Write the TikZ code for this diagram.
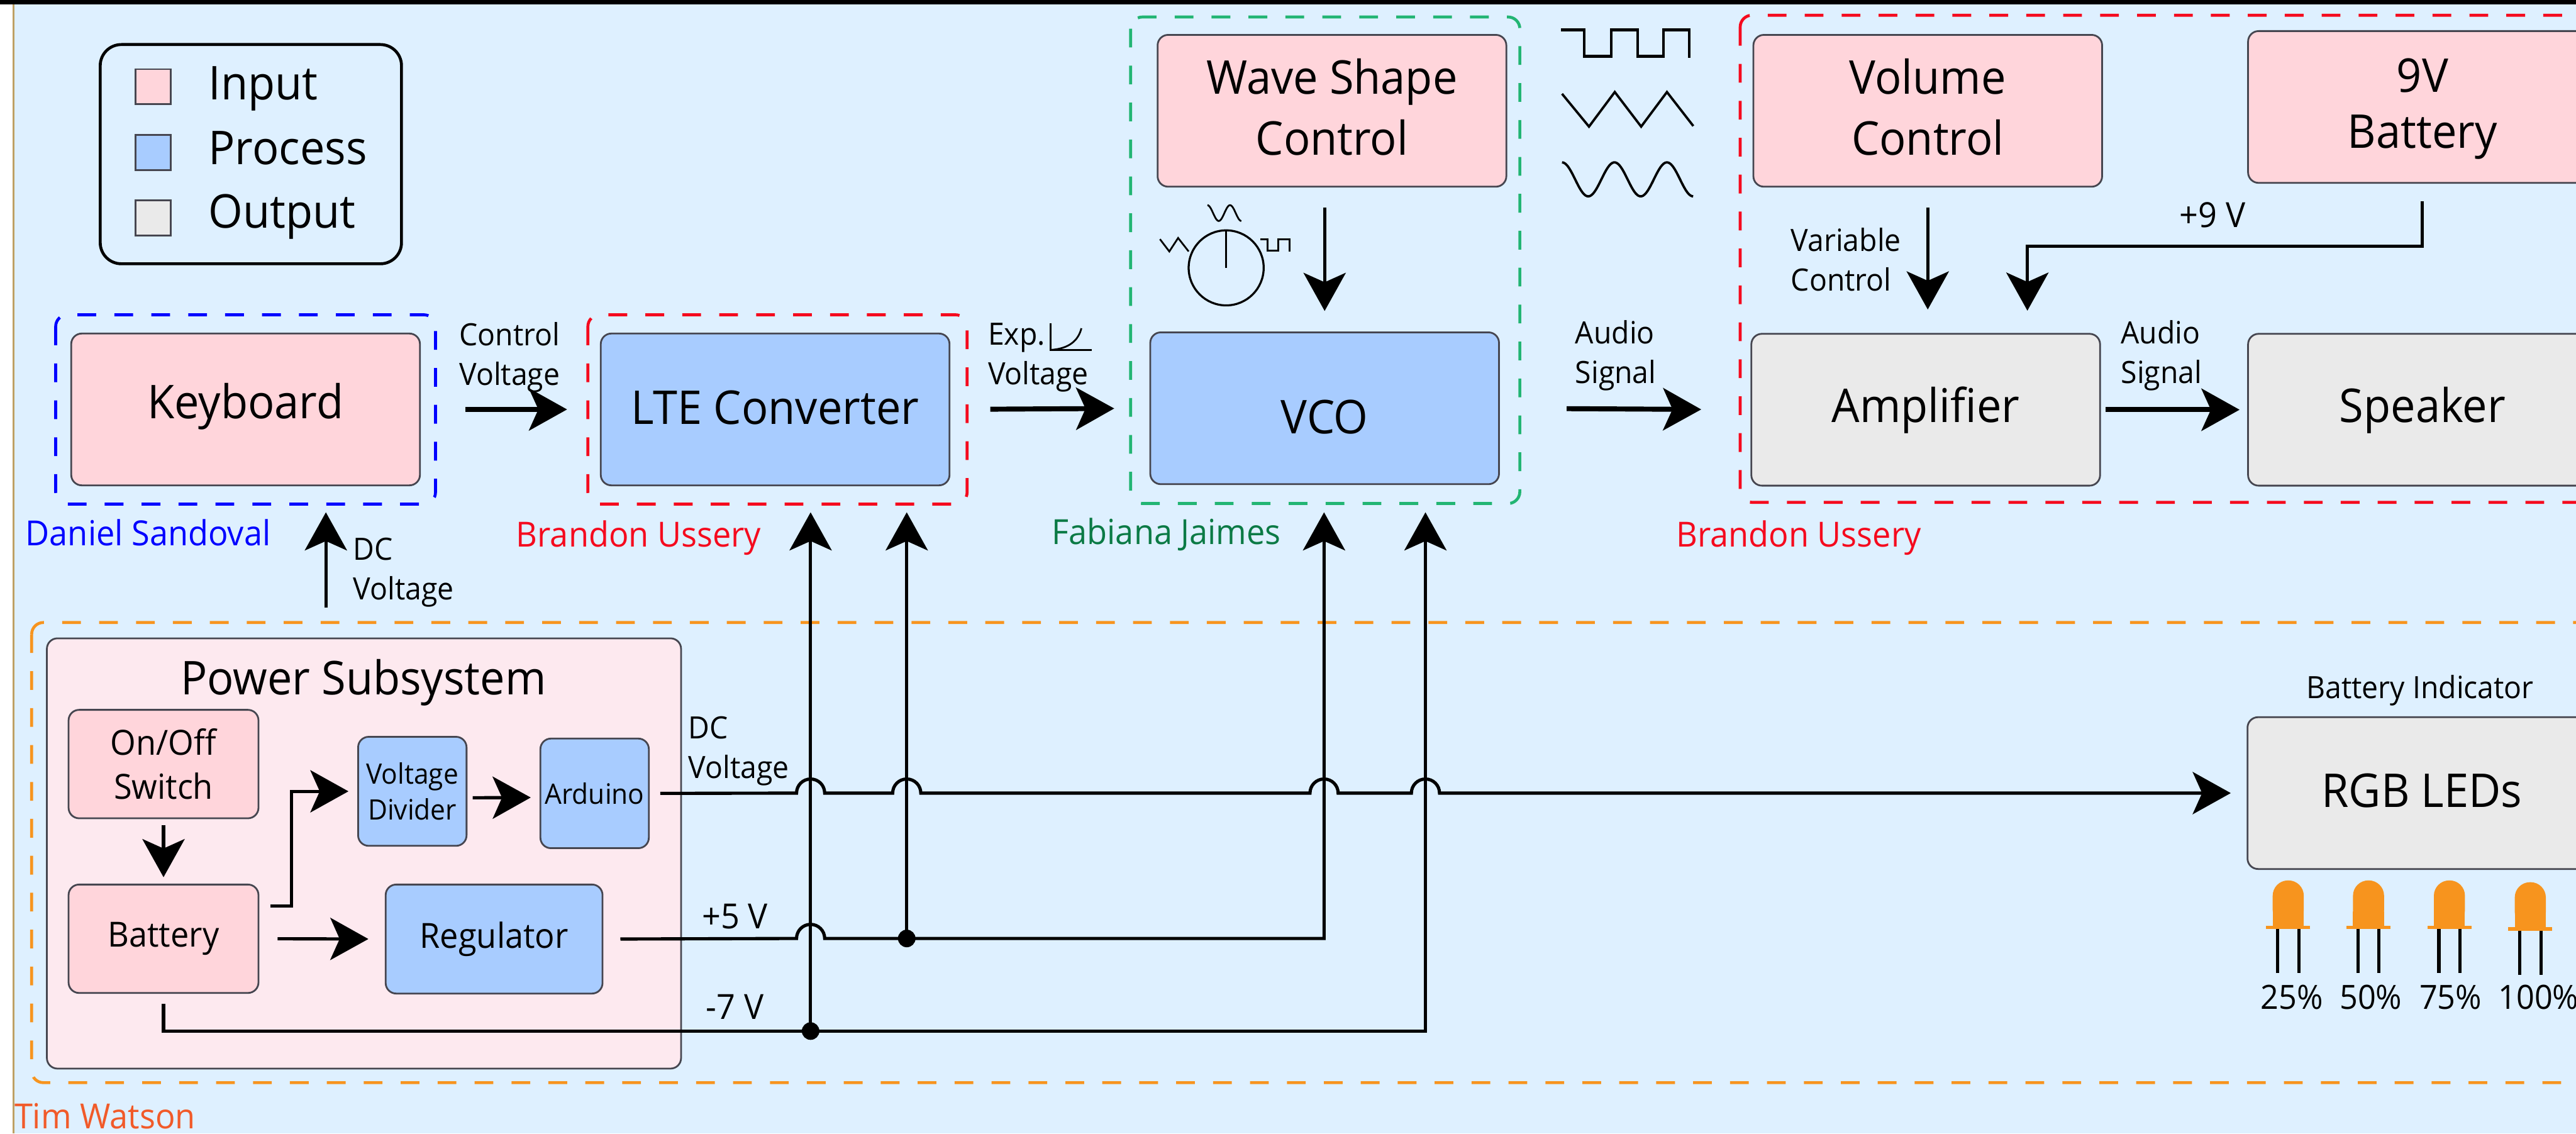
\documentclass[tikz,border=0pt]{standalone}
\usepackage{fontspec}
\setmainfont[FakeStretch=0.95]{Open Sans}
\usetikzlibrary{arrows.meta}
\definecolor{skyback}{RGB}{222,240,255}
\definecolor{inpink}{RGB}{255,213,219}
\definecolor{procblue}{RGB}{168,204,255}
\definecolor{outgray}{RGB}{234,234,234}
\definecolor{powerpink}{RGB}{253,233,239}
\definecolor{boxline}{RGB}{70,70,80}
\definecolor{framered}{RGB}{245,10,30}
\definecolor{framegreen}{RGB}{34,181,115}
\definecolor{frameorange}{RGB}{247,148,30}
\definecolor{nameorange}{RGB}{241,90,41}
\definecolor{namegreen}{RGB}{11,122,69}
\definecolor{edgetan}{RGB}{190,160,100}
\newcommand{\lift}[2]{\raisebox{#1}[0pt][0pt]{#2}}
\tikzset{
	fbig/.style={font=\fontsize{22.6}{29.6}\selectfont},
	fmid/.style={font=\fontsize{16.8}{21.6}\selectfont},
	fsmall/.style={font=\fontsize{14.9}{19.3}\selectfont},
	ftiny/.style={font=\fontsize{13.65}{17.6}\selectfont},
	block/.style={draw=boxline, line width=0.03cm, rounded corners=0.18cm, align=center, inner sep=0pt},
	inbox/.style={block, fill=inpink},
	procbox/.style={block, fill=procblue},
	outbox/.style={block, fill=outgray},
	bigsize/.style={minimum width=5.95cm, minimum height=2.59cm, fbig},
	twoline/.style={text depth=0.13cm},
	frame/.style={line width=0.05cm, dash pattern=on 0.32cm off 0.31cm, rounded corners=0.2cm},
	lbl/.style={fsmall, align=left, anchor=west, inner sep=0pt},
	plain/.style={inner sep=0pt},
	keytxt/.style={fbig, plain, anchor=west, text height=0.6cm, text depth=0.2cm},
	arrw/.style={-{Stealth[length=0.65cm,width=0.72cm,inset=0.16cm]}, line width=0.055cm},
	fatarrw/.style={arrw, line width=0.085cm},
	dot/.style={circle, fill=black, inner sep=0pt, minimum size=0.3cm},
	swatch/.style={draw=boxline, line width=0.03cm, minimum width=0.6cm, minimum height=0.6cm, inner sep=0pt},
	glyph/.style={line width=0.03cm}
}

\begin{document}
\begin{tikzpicture}
	\useasboundingbox (0,0) rectangle (43.95,-19.34);
	\clip (0,0) rectangle (43.95,-19.34);
	\fill [white] (0,0) rectangle (43.95,-19.34);
	\fill [skyback] (0.23,0) rectangle (43.95,-19.34);
	\fill [black] (0,0) rectangle (43.95,-0.08);
	\draw [edgetan, line width=0.03cm] (0.23,-0.08) -- (0.23,-19.34);

	% legend
	\draw [line width=0.05cm, rounded corners=0.36cm] (1.71,-0.76) rectangle (6.85,-4.50);
	\node [swatch, fill=inpink] (keyin) at (2.61,-1.48) {};
	\node [swatch, fill=procblue] (keyproc) at (2.61,-2.60) {};
	\node [swatch, fill=outgray] (keyout) at (2.61,-3.72) {};
	\node [keytxt] (txtin) at (3.55,-1.50) {Input};
	\node [keytxt] (txtproc) at (3.55,-2.61) {Process};
	\node [keytxt] (txtout) at (3.55,-3.69) {Output};

	% dashed groups
	\draw [frame, blue] (0.95,-5.37) rectangle (7.43,-8.60);
	\draw [frame, framered] (10.03,-5.37) rectangle (16.50,-8.60);
	\draw [frame, framegreen] (19.29,-0.29) rectangle (25.93,-8.59);
	\draw [frame, framered] (29.69,-0.26) rectangle (45,-8.57);
	\draw [frame, frameorange] (0.54,-10.62) rectangle (45,-18.47);

	\node [fmid, plain, blue, anchor=west] (daniel) at (0.43,-9.09) {Daniel Sandoval};
	\node [fmid, plain, framered, anchor=west] (brandona) at (8.80,-9.18) {Brandon Ussery};
	\node [fmid, plain, namegreen, anchor=west] (fabiana) at (17.94,-9.12) {Fabiana Jaimes};
	\node [fmid, plain, framered, anchor=west] (brandonb) at (28.59,-9.18) {Brandon Ussery};
	\node [fmid, plain, nameorange, anchor=west] (tim) at (0.24,-19.04) {Tim Watson};

	% top row
	\node [inbox, bigsize] (keyboard) at (4.19,-6.985) {\lift{-0.16cm}{Keyboard}};
	\node [procbox, bigsize] (lte) at (13.225,-6.985) {\lift{-0.25cm}{LTE Converter}};
	\node [inbox, bigsize, twoline] (wave) at (22.725,-1.89) {Wave Shape\\Control};
	\node [procbox, bigsize] (vco) at (22.60,-6.965) {\lift{-0.43cm}{VCO}};
	\node [inbox, bigsize, twoline] (volume) at (32.89,-1.89) {Volume\\Control};
	\node [inbox, bigsize, twoline] (nine) at (41.33,-1.825) {9V\\[-0.08cm]Battery};
	\node [outbox, bigsize] (amp) at (32.855,-6.99) {\lift{-0.22cm}{Amplifier}};
	\node [outbox, bigsize] (speaker) at (41.33,-6.99) {\lift{-0.22cm}{Speaker}};
	\node [outbox, bigsize] (rgb) at (41.32,-13.53) {\lift{-0.24cm}{RGB LEDs}};

	% power subsystem
	\node [block, fill=powerpink, minimum width=10.82cm, minimum height=7.34cm] (power) at (6.21,-14.56) {};
	\node [fbig, plain] (powertitle) at (6.20,-11.65) {Power Subsystem};
	\node [inbox, fmid, minimum width=3.24cm, minimum height=1.85cm] (onoff) at (2.79,-13.035) {On/Off\\Switch};
	\node [inbox, fmid, minimum width=3.24cm, minimum height=1.85cm] (battery) at (2.79,-16.015) {Battery};
	\node [procbox, ftiny, minimum width=1.85cm, minimum height=1.86cm] (divider) at (7.035,-13.50) {Voltage\\Divider};
	\node [procbox, ftiny, minimum width=1.85cm, minimum height=1.87cm] (arduino) at (10.145,-13.535) {Arduino};
	\node [procbox, fmid, minimum width=3.70cm, minimum height=1.86cm] (regulator) at (8.43,-16.02) {Regulator};

	% wires coming up from the power rails
	\node [dot] (jplus) at (15.47,-16.01) {};
	\node [dot] (jminus) at (13.83,-17.59) {};
	\coordinate (tipa) at (13.83,-8.74);
	\coordinate (tipb) at (15.47,-8.74);
	\coordinate (tipc) at (22.59,-8.74);
	\coordinate (tipd) at (24.32,-8.74);
	\draw [arrw] (jminus.center) -- (tipa);
	\draw [arrw] (jplus.center) -- (tipb);
	\draw [arrw] ([yshift=-0.17cm]battery.south) |- (jminus.center) -| (tipd);
	\draw [arrw] ([xshift=0.29cm]regulator.east) -- (13.59,-16.01) arc [start angle=180, end angle=0, radius=0.24] -- (jplus.center) -| (tipc);
	\draw [arrw, shorten >=0.27cm] ([xshift=0.18cm]arduino.east) \foreach \x in {13.83,15.47,22.59,24.32} { -- (\x-0.24,-13.53) arc [start angle=180, end angle=0, radius=0.24] } -- (rgb.west);

	\coordinate (dcfoot) at (5.56,-10.37);
	\coordinate (dchead) at (5.56,-8.74);
	\coordinate (nineend) at (34.59,-5.30);
	\draw [arrw] (dcfoot) -- (dchead);
	\draw [fatarrw, shorten <=0.76cm, shorten >=0.56cm] (keyboard.east) -- (lte.west);
	\draw [fatarrw, shorten <=0.68cm, shorten >=0.60cm] (lte.east) -- (vco.west);
	\draw [fatarrw, shorten <=1.14cm, shorten >=0.84cm] (vco.east) -- (amp.west);
	\draw [fatarrw, shorten <=0.08cm, shorten >=0.13cm] (amp.east) -- (speaker.west);
	\draw [arrw, shorten <=0.34cm, shorten >=0.35cm] (vco.north |- wave.south) -- (vco.north);
	\draw [arrw, shorten <=0.34cm, shorten >=0.40cm] (volume.south) -- (volume.south |- amp.north);
	\draw [arrw, shorten <=0.30cm] (nine.south) -- ++(0,-1.07) -| (nineend);
	\draw [arrw, shorten <=0.10cm, shorten >=0.11cm] (onoff.south) -- (battery.north);
	\draw [arrw, shorten >=0.15cm] ([shift={(0.19,0.56)}]battery.east) -- ++(0.36,0) |- (divider.west);
	\draw [arrw, shorten <=0.09cm, shorten >=0.15cm] ([yshift=-0.11cm]divider.east) -- ([yshift=-0.07cm]arduino.west);
	\draw [arrw, shorten <=0.31cm, shorten >=0.28cm] (battery.east) -- (regulator.west);

	% connector labels
	\node [lbl] (lblcontrol) at (7.83,-6.10) {Control\\Voltage};
	\node [lbl] (lblexp) at (16.85,-6.10) {Exp.\\Voltage};
	\node [lbl] (lbldcb) at (6.02,-9.77) {DC\\Voltage};
	\node [lbl] (lbldca) at (11.74,-12.81) {DC\\Voltage};
	\node [lbl] (lblaudioa) at (26.87,-6.07) {Audio\\Signal};
	\node [lbl] (lblaudiob) at (36.18,-6.07) {Audio\\Signal};
	\node [lbl] (lblvar) at (30.55,-4.43) {Variable\\Control};
	\node [fmid, plain] (lblnine) at (37.75,-3.67) {+9 V};
	\node [fmid, plain] (lblfive) at (12.54,-15.63) {+5 V};
	\node [fmid, plain] (lblseven) at (12.54,-17.18) {-7 V};
	\node [fsmall, plain] (lblind) at (41.29,-11.78) {Battery Indicator};

	% exponential sketch
	\draw [glyph] (17.92,-5.51) -- (17.92,-5.97) -- (18.63,-5.97);
	\draw [glyph] (17.92,-5.97) .. controls (18.25,-5.95) and (18.40,-5.80) .. (18.45,-5.60);

	% selector dial
	\node [draw, circle, line width=0.035cm, minimum size=1.28cm, inner sep=0pt] (knob) at (20.92,-4.57) {};
	\draw [line width=0.035cm] (knob.north) -- (knob.center);
	\draw [glyph, domain=0:540, samples=40] plot ({20.60+\x/180*0.193},{-3.635+0.135*cos(\x)});
	\draw [glyph] (19.79,-4.08) -- (19.95,-4.29) -- (20.10,-4.06) -- (20.28,-4.29);
	\draw [glyph] (21.50,-4.08) -- (21.63,-4.08) -- (21.63,-4.28) -- (21.81,-4.28) -- (21.81,-4.08) -- (22.00,-4.08) -- (22.00,-4.29);

	% wave shapes
	\draw [line width=0.05cm] (26.63,-0.51) -- (27.03,-0.51) -- (27.03,-0.96) -- (27.49,-0.96) -- (27.49,-0.51) -- (27.94,-0.51) -- (27.94,-0.96) -- (28.38,-0.96) -- (28.38,-0.51) -- (28.82,-0.51) -- (28.82,-0.99);
	\draw [line width=0.04cm] (26.65,-1.60) -- (27.11,-2.16) -- (27.55,-1.57) -- (28.00,-2.16) -- (28.44,-1.57) -- (28.89,-2.15);
	\draw [line width=0.04cm, domain=0:900, samples=90] plot ({26.65+\x/180*0.4475},{-3.06+0.29*cos(\x)});

	% indicator leds
	\foreach \x/\dy/\lx/\pct [count=\i] in {39.04/0/39.10/25,40.41/0/40.45/50,41.79/0/41.81/75,43.17/-0.03/43.31/100} {
		\fill [frameorange, rounded corners=0.26cm] (\x-0.265,-15.79+\dy) -- (\x-0.265,-15.02+\dy) -- (\x+0.265,-15.02+\dy) -- (\x+0.265,-15.79+\dy) -- cycle;
		\fill [frameorange] (\x-0.265,-15.55+\dy) rectangle (\x+0.265,-15.79+\dy);
		\fill [frameorange] (\x-0.375,-15.79+\dy) rectangle (\x+0.375,-15.85+\dy);
		\draw [line width=0.055cm] (\x-0.18,-15.85+\dy) -- (\x-0.18,-16.60+\dy);
		\draw [line width=0.055cm] (\x+0.18,-15.85+\dy) -- (\x+0.18,-16.60+\dy);
		\node [plain, font=\fontsize{16.2}{18}\selectfont] (pct\i) at (\lx,-17.01) {\pct\%};
	}
\end{tikzpicture}
\end{document}
